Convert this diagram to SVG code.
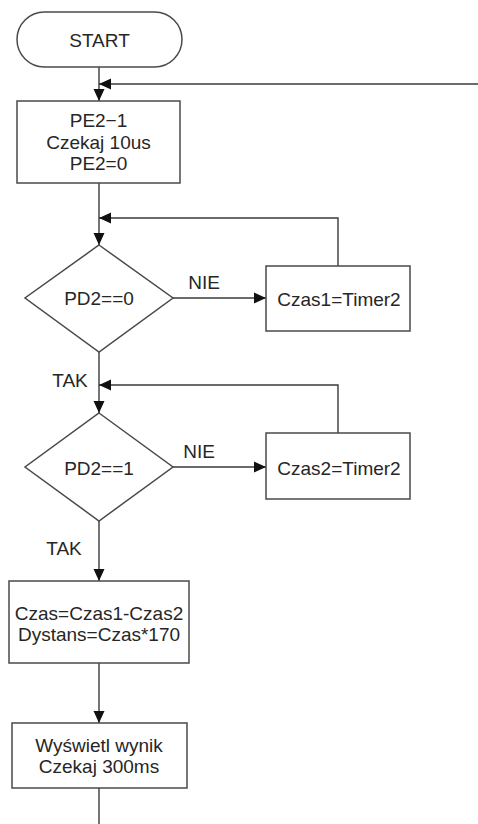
<svg xmlns="http://www.w3.org/2000/svg" width="478" height="824" viewBox="0 0 478 824">
<style>
.n{fill:#fff;stroke:#4a4a4a;stroke-width:1.5}
.c{fill:none;stroke:#3a3a3a;stroke-width:1.4}
text{font-family:"Liberation Sans",Arial,sans-serif;font-size:19px;fill:#262626}
.m{text-anchor:middle}
</style>
<defs>
<marker id="ah" viewBox="0 0 12 12" refX="12" refY="6" markerWidth="12" markerHeight="12" markerUnits="userSpaceOnUse" orient="auto">
<path d="M0,0.5 L12,6 L0,11.5 Z" fill="#111"/>
</marker>
</defs>
<rect width="478" height="824" fill="#fff"/>
<g id="connectors">
<path class="c" d="M99,67 V101" marker-end="url(#ah)"/>
<path class="c" d="M478,84 H99" marker-end="url(#ah)"/>
<path class="c" d="M99,183 V245" marker-end="url(#ah)"/>
<path class="c" d="M338,266 V218 H99" marker-end="url(#ah)"/>
<path class="c" d="M173,298 H266" marker-end="url(#ah)"/>
<path class="c" d="M99,352 V413" marker-end="url(#ah)"/>
<path class="c" d="M338,433 V385 H99" marker-end="url(#ah)"/>
<path class="c" d="M173,467 H266" marker-end="url(#ah)"/>
<path class="c" d="M99,521 V581" marker-end="url(#ah)"/>
<path class="c" d="M99,663 V723" marker-end="url(#ah)"/>
<path class="c" d="M99,788 V824"/>
<text class="m" x="204" y="289">NIE</text>
<text class="m" x="70" y="387">TAK</text>
<text class="m" x="199" y="458">NIE</text>
<text class="m" x="64" y="555">TAK</text>
</g>
<g id="start">
<rect class="n" x="17" y="12" width="165" height="55" rx="27.5" ry="27.5"/>
<text class="m" x="99.5" y="47">START</text>
</g>
<g id="init">
<rect class="n" x="17" y="101" width="163" height="82"/>
<text class="m" x="98.5" y="127">PE2−1</text>
<text class="m" x="98.5" y="149">Czekaj 10us</text>
<text class="m" x="98.5" y="170">PE2=0</text>
</g>
<g id="dec1">
<polygon class="n" points="99,245 173,298 99,352 25,298"/>
<text class="m" x="99" y="305">PD2==0</text>
</g>
<g id="czas1">
<rect class="n" x="266" y="266" width="144" height="65"/>
<text class="m" x="339" y="306">Czas1=Timer2</text>
</g>
<g id="dec2">
<polygon class="n" points="99,413 173,467 99,521 25,467"/>
<text class="m" x="99" y="475">PD2==1</text>
</g>
<g id="czas2">
<rect class="n" x="266" y="433" width="144" height="66"/>
<text class="m" x="339" y="475">Czas2=Timer2</text>
</g>
<g id="calc">
<rect class="n" x="9" y="581" width="180" height="82"/>
<text class="m" x="99" y="620">Czas=Czas1-Czas2</text>
<text class="m" x="99" y="641">Dystans=Czas*170</text>
</g>
<g id="show">
<rect class="n" x="12" y="723" width="175" height="65"/>
<text class="m" x="99" y="752">Wyświetl wynik</text>
<text class="m" x="99" y="773">Czekaj 300ms</text>
</g>
</svg>
